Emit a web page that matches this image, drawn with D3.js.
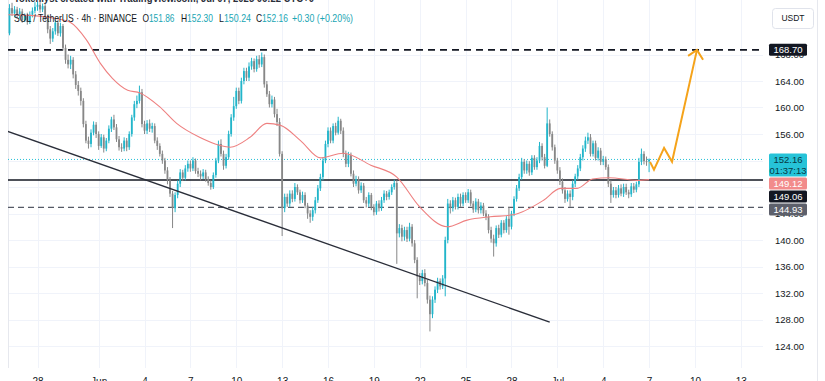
<!DOCTYPE html>
<html><head><meta charset="utf-8">
<script src="https://cdn.jsdelivr.net/npm/d3@7"></script>
<style>
body{margin:0;background:#fff;}
svg{display:block;font-family:"Liberation Sans",Arial,sans-serif;}
</style>
</head><body>
<svg id="c" width="825" height="381"></svg>
<script>
// ---------- DATA ----------
const watermark = "Tokenlyst created with TradingView.com, Jul 07, 2025 06:22 UTC+0";
const symbolText = "SOL / TetherUS · 4h · BINANCE";
const ohlcHeader = [["O","151.86"],["H","152.30"],["L","150.24"],["C","152.16"]];
const changeText = "+0.30 (+0.20%)";
const firstCandleUtc = Date.UTC(2025,4,26,4); // May 26 04:00, 4h candles
const opens = [
171.2,175.0,174.2,174.8,173.9,
174.5,173.2,173.8,172.9,174.0,174.6,
175.2,175.5,174.8,175.3,173.6,171.8,
170.4,171.5,172.8,171.2,172.3,169.0,
167.2,166.5,167.2,165.0,163.4,162.5,
161.0,157.5,155.0,154.5,156.2,157.4,
156.0,154.2,155.5,153.8,155.0,156.8,
158.2,157.0,155.2,154.0,153.8,155.0,
154.0,156.0,158.5,160.5,161.0,162.3,
157.5,156.5,157.6,156.8,157.2,155.0,
154.2,153.0,152.0,150.5,149.0,147.0,
144.8,146.8,148.5,150.2,149.4,150.8,
151.5,150.8,152.0,150.4,150.0,149.6,
150.2,149.2,148.6,148.0,149.8,152.0,
154.5,153.0,151.2,152.5,156.0,158.5,
160.2,162.5,161.0,164.0,165.5,164.5,
166.2,167.0,165.8,167.3,166.5,167.6,
163.5,162.0,160.5,161.2,159.0,157.8,
153.0,144.8,146.5,145.5,147.0,146.2,
148.0,147.2,146.0,146.8,145.2,144.0,
143.5,144.5,146.0,147.8,149.5,152.0,
154.5,156.5,155.0,157.2,156.2,158.0,
156.5,153.0,151.5,152.8,150.0,148.5,
149.2,147.5,148.2,146.0,145.5,146.8,
145.0,144.2,145.5,144.8,146.0,147.0,
146.5,147.2,148.0,148.6,141.0,141.8,
140.5,141.5,140.2,142.0,139.5,137.0,
134.5,133.8,135.0,133.5,131.0,128.8,
131.0,132.5,133.8,133.0,134.2,140.0,
145.5,144.8,146.0,145.0,146.5,145.5,
146.8,146.0,147.2,145.5,144.6,145.8,
144.5,145.2,144.0,143.5,141.5,140.2,
139.5,141.8,140.8,142.6,141.5,143.2,
142.0,144.0,146.2,147.8,149.5,151.8,
150.5,151.5,150.2,152.4,151.0,152.0,
154.2,152.5,151.2,157.6,156.0,154.0,
152.0,150.5,148.8,147.5,146.2,147.0,
146.5,148.5,149.6,150.8,152.5,153.8,
155.0,155.5,153.0,154.6,152.4,153.5,
151.8,152.2,151.0,148.5,146.8,147.5,
146.8,147.8,147.0,148.0,147.2,146.9,
148.1,147.6,148.4,151.8,153.0,151.9,
151.86];
const closes = [
175.0,174.2,174.8,173.9,174.5,
173.2,173.8,172.9,174.0,174.6,175.2,
175.5,174.8,175.3,173.6,171.8,170.4,
171.5,172.8,171.2,172.3,169.0,167.2,
166.5,167.2,165.0,163.4,162.5,161.0,
157.5,155.0,154.5,156.2,157.4,156.0,
154.2,155.5,153.8,155.0,156.8,158.2,
157.0,155.2,154.0,153.8,155.0,154.0,
156.0,158.5,160.5,161.0,162.3,157.5,
156.5,157.6,156.8,157.2,155.0,154.2,
153.0,152.0,150.5,149.0,147.0,144.8,
146.8,148.5,150.2,149.4,150.8,151.5,
150.8,152.0,150.4,150.0,149.6,150.2,
149.2,148.6,148.0,149.8,152.0,154.5,
153.0,151.2,152.5,156.0,158.5,160.2,
162.5,161.0,164.0,165.5,164.5,166.2,
167.0,165.8,167.3,166.5,167.6,163.5,
162.0,160.5,161.2,159.0,157.8,153.0,
144.8,146.5,145.5,147.0,146.2,148.0,
147.2,146.0,146.8,145.2,144.0,143.5,
144.5,146.0,147.8,149.5,152.0,154.5,
156.5,155.0,157.2,156.2,158.0,156.5,
153.0,151.5,152.8,150.0,148.5,149.2,
147.5,148.2,146.0,145.5,146.8,145.0,
144.2,145.5,144.8,146.0,147.0,146.5,
147.2,148.0,148.6,141.0,141.8,140.5,
141.5,140.2,142.0,139.5,137.0,134.5,
133.8,135.0,133.5,131.0,128.8,131.0,
132.5,133.8,133.0,134.2,140.0,145.5,
144.8,146.0,145.0,146.5,145.5,146.8,
146.0,147.2,145.5,144.6,145.8,144.5,
145.2,144.0,143.5,141.5,140.2,139.5,
141.8,140.8,142.6,141.5,143.2,142.0,
144.0,146.2,147.8,149.5,151.8,150.5,
151.5,150.2,152.4,151.0,152.0,154.2,
152.5,151.2,157.6,156.0,154.0,152.0,
150.5,148.8,147.5,146.2,147.0,146.5,
148.5,149.6,150.8,152.5,153.8,155.0,
155.5,153.0,154.6,152.4,153.5,151.8,
152.2,151.0,148.5,146.8,147.5,146.8,
147.8,147.0,148.0,147.2,146.9,148.1,
147.6,148.4,151.8,153.0,151.9,151.86,
152.16];
const highs = [
175.6,175.8,175.3,175.2,175.0,
174.9,174.2,174.3,174.5,175.1,175.9,
176.0,175.9,175.7,175.6,174.0,172.3,
172.0,173.3,173.1,172.8,172.6,169.5,
168.0,167.8,167.6,165.5,164.0,163.0,
161.4,158.0,155.6,156.7,157.9,157.8,
156.4,156.0,155.9,155.4,157.3,158.6,
158.9,157.5,155.7,154.6,155.5,155.4,
156.4,158.9,161.0,161.8,163.3,162.8,
158.0,158.1,158.2,157.7,157.6,155.5,
154.6,153.5,152.4,151.0,149.5,147.4,
147.2,149.0,150.7,150.6,151.3,152.0,
152.0,152.5,152.3,150.9,150.5,150.7,
150.6,149.6,149.0,150.2,152.4,155.0,
155.2,153.5,153.0,156.5,159.0,161.6,
163.0,163.0,164.5,166.0,166.0,166.8,
167.5,167.4,167.8,167.9,168.3,168.0,
164.0,162.5,161.8,161.6,159.8,158.4,
153.4,147.0,147.0,147.5,147.5,148.6,
148.4,147.6,147.3,147.2,145.6,144.5,
145.0,146.5,148.3,150.0,152.5,155.0,
157.0,157.0,157.6,157.7,158.6,158.3,
157.0,153.5,153.3,153.2,150.5,149.7,
149.6,148.7,148.6,146.5,147.2,147.1,
145.4,145.9,146.0,146.5,147.5,147.4,
147.6,148.4,149.1,149.0,142.4,142.3,
142.0,142.0,142.6,142.4,140.0,137.4,
135.0,135.5,135.6,134.0,131.6,131.5,
133.0,134.3,134.2,134.7,140.5,146.2,
146.0,146.5,146.4,147.0,147.0,147.2,
147.2,147.7,147.6,145.9,146.3,146.2,
145.7,145.6,144.5,143.9,142.0,140.8,
142.2,142.3,143.0,143.0,143.6,145.0,
144.4,146.6,148.3,150.0,152.4,152.2,
152.0,151.9,152.8,152.8,152.5,154.8,
154.6,153.0,160.0,158.2,156.4,154.4,
152.4,151.0,149.3,148.0,147.5,147.5,
149.0,150.0,151.3,153.0,154.3,155.6,
156.2,156.0,155.0,155.0,154.0,153.9,
152.7,152.6,151.4,149.0,148.0,148.0,
148.3,148.4,148.5,148.5,147.6,148.6,
148.6,148.8,152.4,153.8,153.4,152.6,
152.30];
const lows = [
170.9,173.8,173.6,173.5,173.4,
172.8,172.9,172.5,172.6,173.6,174.2,
174.6,174.3,174.4,173.2,171.2,169.6,
169.9,171.0,170.8,170.7,168.6,166.6,
165.9,165.8,164.4,162.8,161.8,160.3,
157.0,154.6,153.8,154.0,155.8,155.4,
153.6,153.9,153.2,153.4,154.6,156.3,
156.6,154.8,153.5,153.3,153.4,153.4,
153.6,155.6,158.0,159.9,160.6,157.0,
156.0,156.0,156.3,156.2,154.6,153.6,
152.6,151.5,150.0,148.4,146.5,141.8,
144.2,146.3,148.0,148.9,149.0,150.3,
150.3,150.4,150.0,149.5,149.0,149.2,
148.8,148.2,147.6,147.7,149.4,151.6,
152.6,150.6,150.8,152.1,155.6,158.0,
159.8,160.5,160.6,163.5,164.0,164.0,
165.7,165.3,165.4,166.0,166.1,163.0,
161.6,160.0,160.0,158.5,157.2,152.6,
140.6,144.2,145.0,145.0,145.7,145.8,
146.8,145.5,145.6,144.8,143.2,142.6,
142.9,144.0,145.6,147.4,149.0,151.6,
154.0,154.6,154.6,155.8,155.9,156.0,
152.5,151.0,151.0,149.6,148.0,148.1,
147.0,147.1,145.6,144.9,145.0,144.5,
143.7,143.8,144.3,144.4,145.6,146.0,
146.1,146.8,147.6,136.4,140.4,139.8,
139.9,139.7,139.8,139.0,136.5,131.2,
133.2,133.3,133.0,130.4,126.2,128.2,
130.5,132.0,132.5,132.6,131.5,139.5,
144.0,144.3,144.6,144.6,145.0,145.1,
145.6,145.6,145.1,144.1,144.2,144.0,
144.0,143.6,143.0,141.0,139.6,137.5,
139.0,140.3,140.4,141.0,141.1,140.8,
141.6,143.6,145.8,147.4,149.1,150.0,
150.0,149.7,149.8,150.6,150.6,151.6,
152.0,150.8,151.0,155.6,153.5,151.5,
150.0,148.3,147.0,145.6,145.8,145.0,
146.0,148.0,149.1,150.4,152.0,153.3,
154.5,152.6,152.6,152.0,152.0,151.3,
151.3,150.6,148.0,145.6,146.4,146.3,
146.4,146.6,146.5,146.8,146.3,146.5,
147.1,147.2,148.0,151.3,151.4,151.2,
150.24];
// moving average (days since May 26 00:00 UTC, value)
const maDays   = [0.1,1.5,3.0,4.1,5.2,6.1,6.9,7.9,8.7,10.0,11.1,12.6,13.9,14.6,15.9,17.0,17.9,19.2,20.5,22.0,23.8,25.5,27.0,28.8,30.1,31.6,33.1,35.1,36.2,37.3,38.3,39.4,41.2,42.0];
const maValues = [174.0,173.9,173.5,172.9,170.2,166.7,164.4,162.6,162.2,160.1,157.6,155.5,154.3,154.0,155.5,157.6,157.3,155.0,152.4,153.1,151.3,149.5,145.0,142.0,143.0,143.5,143.8,146.0,147.8,147.8,149.2,149.4,149.0,149.12];
// drawn lines
const trendDays = [0.05, 35.5];
const trendPrices = [156.4, 127.6];
const projDays = [42.06, 42.32, 42.98, 43.5, 45.13];
const projPrices = [151.8, 150.6, 153.9, 151.8, 168.7];
const arrowDays = [44.55, 45.13, 45.53];
const arrowPrices = [167.8, 168.7, 167.2];
const levelTarget = 168.70, levelSupport = 149.06, levelLow = 144.93;
const lastPrice = 152.16, maLast = 149.12, countdown = "01:37:13";
const priceTicks = [124,128,132,136,140,144,148,152,156,160,164,168];
const priceTickLabels = [124,128,132,136,140,144,156,160,164,168]; // 148 & 152 sit fully under price tags
const timeTickDays = [2,6,9,12,15,18,21,24,27,30,33,36,39,42,45,48];
const timeTickLabels = ["28","Jun","4","7","10","13","16","19","22","25","28","Jul","4","7","10","13"];

// ---------- DRAW ----------
const svg = d3.select("#c");
const plotL = 8, plotR = 763, plotT = 0, plotB = 368;
const day0 = Date.UTC(2025,4,26), dayMs = 86400000;
const dDate = d => new Date(day0 + d*dayMs);
const x = d3.scaleUtc().domain([dDate(0.0706), dDate(49.45)]).range([plotL, plotR]);
const y = d3.scaleLinear().domain([124,168]).range([346,54.5]);
const upC = "#22b5ca", downC = "#878787";

svg.append("rect").attr("width",825).attr("height",381).attr("fill","#fff");
svg.append("defs").append("clipPath").attr("id","clip")
  .append("rect").attr("x",plotL).attr("y",plotT).attr("width",plotR-plotL).attr("height",plotB-plotT);

// grid
const grid = svg.append("g");
grid.selectAll(".hg").data(priceTicks).join("line")
  .attr("x1",plotL).attr("x2",plotR).attr("y1",d=>Math.round(y(d))+0.5).attr("y2",d=>Math.round(y(d))+0.5)
  .attr("stroke","#f0f3fa");
grid.selectAll(".vg").data(timeTickDays).join("line")
  .attr("x1",d=>Math.round(x(dDate(d)))+0.5).attr("x2",d=>Math.round(x(dDate(d)))+0.5)
  .attr("y1",plotT).attr("y2",plotB).attr("stroke","#f0f3fa");
svg.append("line").attr("x1",8.5).attr("x2",8.5).attr("y1",0).attr("y2",plotB).attr("stroke","#e6e8ee");
svg.append("line").attr("x1",817.5).attr("x2",817.5).attr("y1",0).attr("y2",381).attr("stroke","#e6e8ee");

const plot = svg.append("g").attr("clip-path","url(#clip)");

// horizontal levels
plot.append("line").attr("x1",plotL).attr("x2",plotR).attr("y1",y(lastPrice)).attr("y2",y(lastPrice))
  .attr("stroke","#26c0d6").attr("stroke-width",1).attr("stroke-dasharray","1,2");
plot.append("line").attr("x1",plotL).attr("x2",plotR).attr("y1",y(levelTarget)).attr("y2",y(levelTarget))
  .attr("stroke","#131722").attr("stroke-width",1.6).attr("stroke-dasharray","7,5");
plot.append("line").attr("x1",plotL).attr("x2",plotR).attr("y1",y(levelSupport)).attr("y2",y(levelSupport))
  .attr("stroke","#131722").attr("stroke-width",1.6);
plot.append("line").attr("x1",plotL).attr("x2",plotR).attr("y1",y(levelLow)).attr("y2",y(levelLow))
  .attr("stroke","#555a66").attr("stroke-width",1.1).attr("stroke-dasharray","6,4");

// candles
const candles = closes.map((c,i)=>({t:new Date(firstCandleUtc + i*4*3600000), o:opens[i], h:highs[i], l:lows[i], c}));
const cg = plot.append("g");
cg.selectAll(".w").data(candles).join("line")
  .attr("x1",d=>x(d.t)).attr("x2",d=>x(d.t)).attr("y1",d=>y(d.h)).attr("y2",d=>y(d.l))
  .attr("stroke",d=>d.c>=d.o?upC:downC).attr("stroke-width",1);
cg.selectAll(".b").data(candles).join("rect")
  .attr("x",d=>x(d.t)-0.9).attr("width",1.8)
  .attr("y",d=>y(Math.max(d.o,d.c))).attr("height",d=>Math.max(1,Math.abs(y(d.o)-y(d.c))))
  .attr("fill",d=>d.c>=d.o?upC:downC);

// moving average
const maPts = maDays.map((d,i)=>[dDate(d), maValues[i]]);
plot.append("path").attr("d", d3.line().x(d=>x(d[0])).y(d=>y(d[1])).curve(d3.curveMonotoneX)(maPts))
  .attr("fill","none").attr("stroke","#ee8080").attr("stroke-width",1.1);

// trend line
const trendPts = trendDays.map((d,i)=>[dDate(d), trendPrices[i]]);
plot.append("path").attr("d", d3.line().x(d=>x(d[0])).y(d=>y(d[1]))(trendPts))
  .attr("fill","none").attr("stroke","#2a2e39").attr("stroke-width",1.3);

// projection
const lineP = d3.line().x(d=>x(d[0])).y(d=>y(d[1]));
plot.append("path").attr("d", lineP(projDays.map((d,i)=>[dDate(d), projPrices[i]])))
  .attr("fill","none").attr("stroke","#f5a31a").attr("stroke-width",2).attr("stroke-linejoin","miter");
plot.append("path").attr("d", lineP(arrowDays.map((d,i)=>[dDate(d), arrowPrices[i]])))
  .attr("fill","none").attr("stroke","#f5a31a").attr("stroke-width",2);

// axes
const ax = svg.append("g").attr("transform","translate(0,378)")
  .call(d3.axisBottom(x).tickValues(timeTickDays.map(dDate)).tickFormat((d,i)=>timeTickLabels[i]).tickSize(0).tickPadding(0));
ax.select(".domain").remove();
ax.selectAll("text").attr("fill","#131722").attr("font-size","10px").attr("font-family","Liberation Sans, Arial, sans-serif");

const ay = svg.append("g").attr("transform","translate(775,0)")
  .call(d3.axisRight(y).tickValues(priceTickLabels).tickFormat(d=>d.toFixed(2)).tickSize(0).tickPadding(0));
ay.select(".domain").remove();
ay.selectAll("text").attr("fill","#131722").attr("font-size","9.5px").attr("font-family","Liberation Sans, Arial, sans-serif");

// price labels
const labels = [
  {v:levelTarget, bg:"#131722", fg:"#ffffff", lines:[levelTarget.toFixed(2)]},
  {v:lastPrice, bg:"#26c3d8", fg:"#083944", lines:[lastPrice.toFixed(2), countdown]},
  {v:maLast, bg:"#f28b8b", fg:"#ffffff", lines:[maLast.toFixed(2)]},
  {v:levelSupport, bg:"#131722", fg:"#ffffff", lines:[levelSupport.toFixed(2)]},
  {v:levelLow, bg:"#5d606b", fg:"#ffffff", lines:[levelLow.toFixed(2)]}
];
let prevBottom = -100;
labels.forEach(L=>{
  const h = 12*L.lines.length - (L.lines.length>1?1:0);
  const top = Math.max(y(L.v)-6, prevBottom+1);
  prevBottom = top + h;
  const g = svg.append("g");
  g.append("rect").attr("x",769).attr("y",top).attr("width",38).attr("height",h).attr("rx",1.5).attr("fill",L.bg);
  L.lines.forEach((t,j)=>{
    g.append("text").attr("x",788).attr("y",top+6+j*11).attr("dy","0.35em").attr("text-anchor","middle")
      .attr("font-size","9.5px").attr("fill",L.fg).text(t);
  });
});

// USDT box
svg.append("rect").attr("x",772.5).attr("y",8.5).attr("width",41).attr("height",20).attr("rx",3)
  .attr("fill","#fff").attr("stroke","#e0e3eb");
svg.append("text").attr("x",793).attr("y",18.5).attr("dy","0.35em").attr("text-anchor","middle")
  .attr("font-size","8.5px").attr("fill","#131722").text("USDT");

// header texts
svg.append("text").attr("x",14).attr("y",2).attr("font-size","11px").attr("font-weight","bold")
  .attr("fill","#2a2e39").attr("textLength",300).attr("lengthAdjust","spacingAndGlyphs").text(watermark);
svg.append("text").attr("x",14).attr("y",21.5).attr("font-size","10.5px").attr("fill","#131722")
  .attr("textLength",123).attr("lengthAdjust","spacingAndGlyphs").text(symbolText);
const hx = [142.5,181,219,256];
ohlcHeader.forEach((p,i)=>{
  const t = svg.append("text").attr("x",hx[i]).attr("y",21.5).attr("font-size","10.5px")
    .attr("textLength",32).attr("lengthAdjust","spacingAndGlyphs");
  t.append("tspan").attr("fill","#131722").text(p[0]);
  t.append("tspan").attr("fill","#1aa6b4").text(p[1]);
});
svg.append("text").attr("x",292).attr("y",21.5).attr("font-size","10.5px").attr("fill","#1aa6b4")
  .attr("textLength",61).attr("lengthAdjust","spacingAndGlyphs").text(changeText);
</script>
</body></html>
